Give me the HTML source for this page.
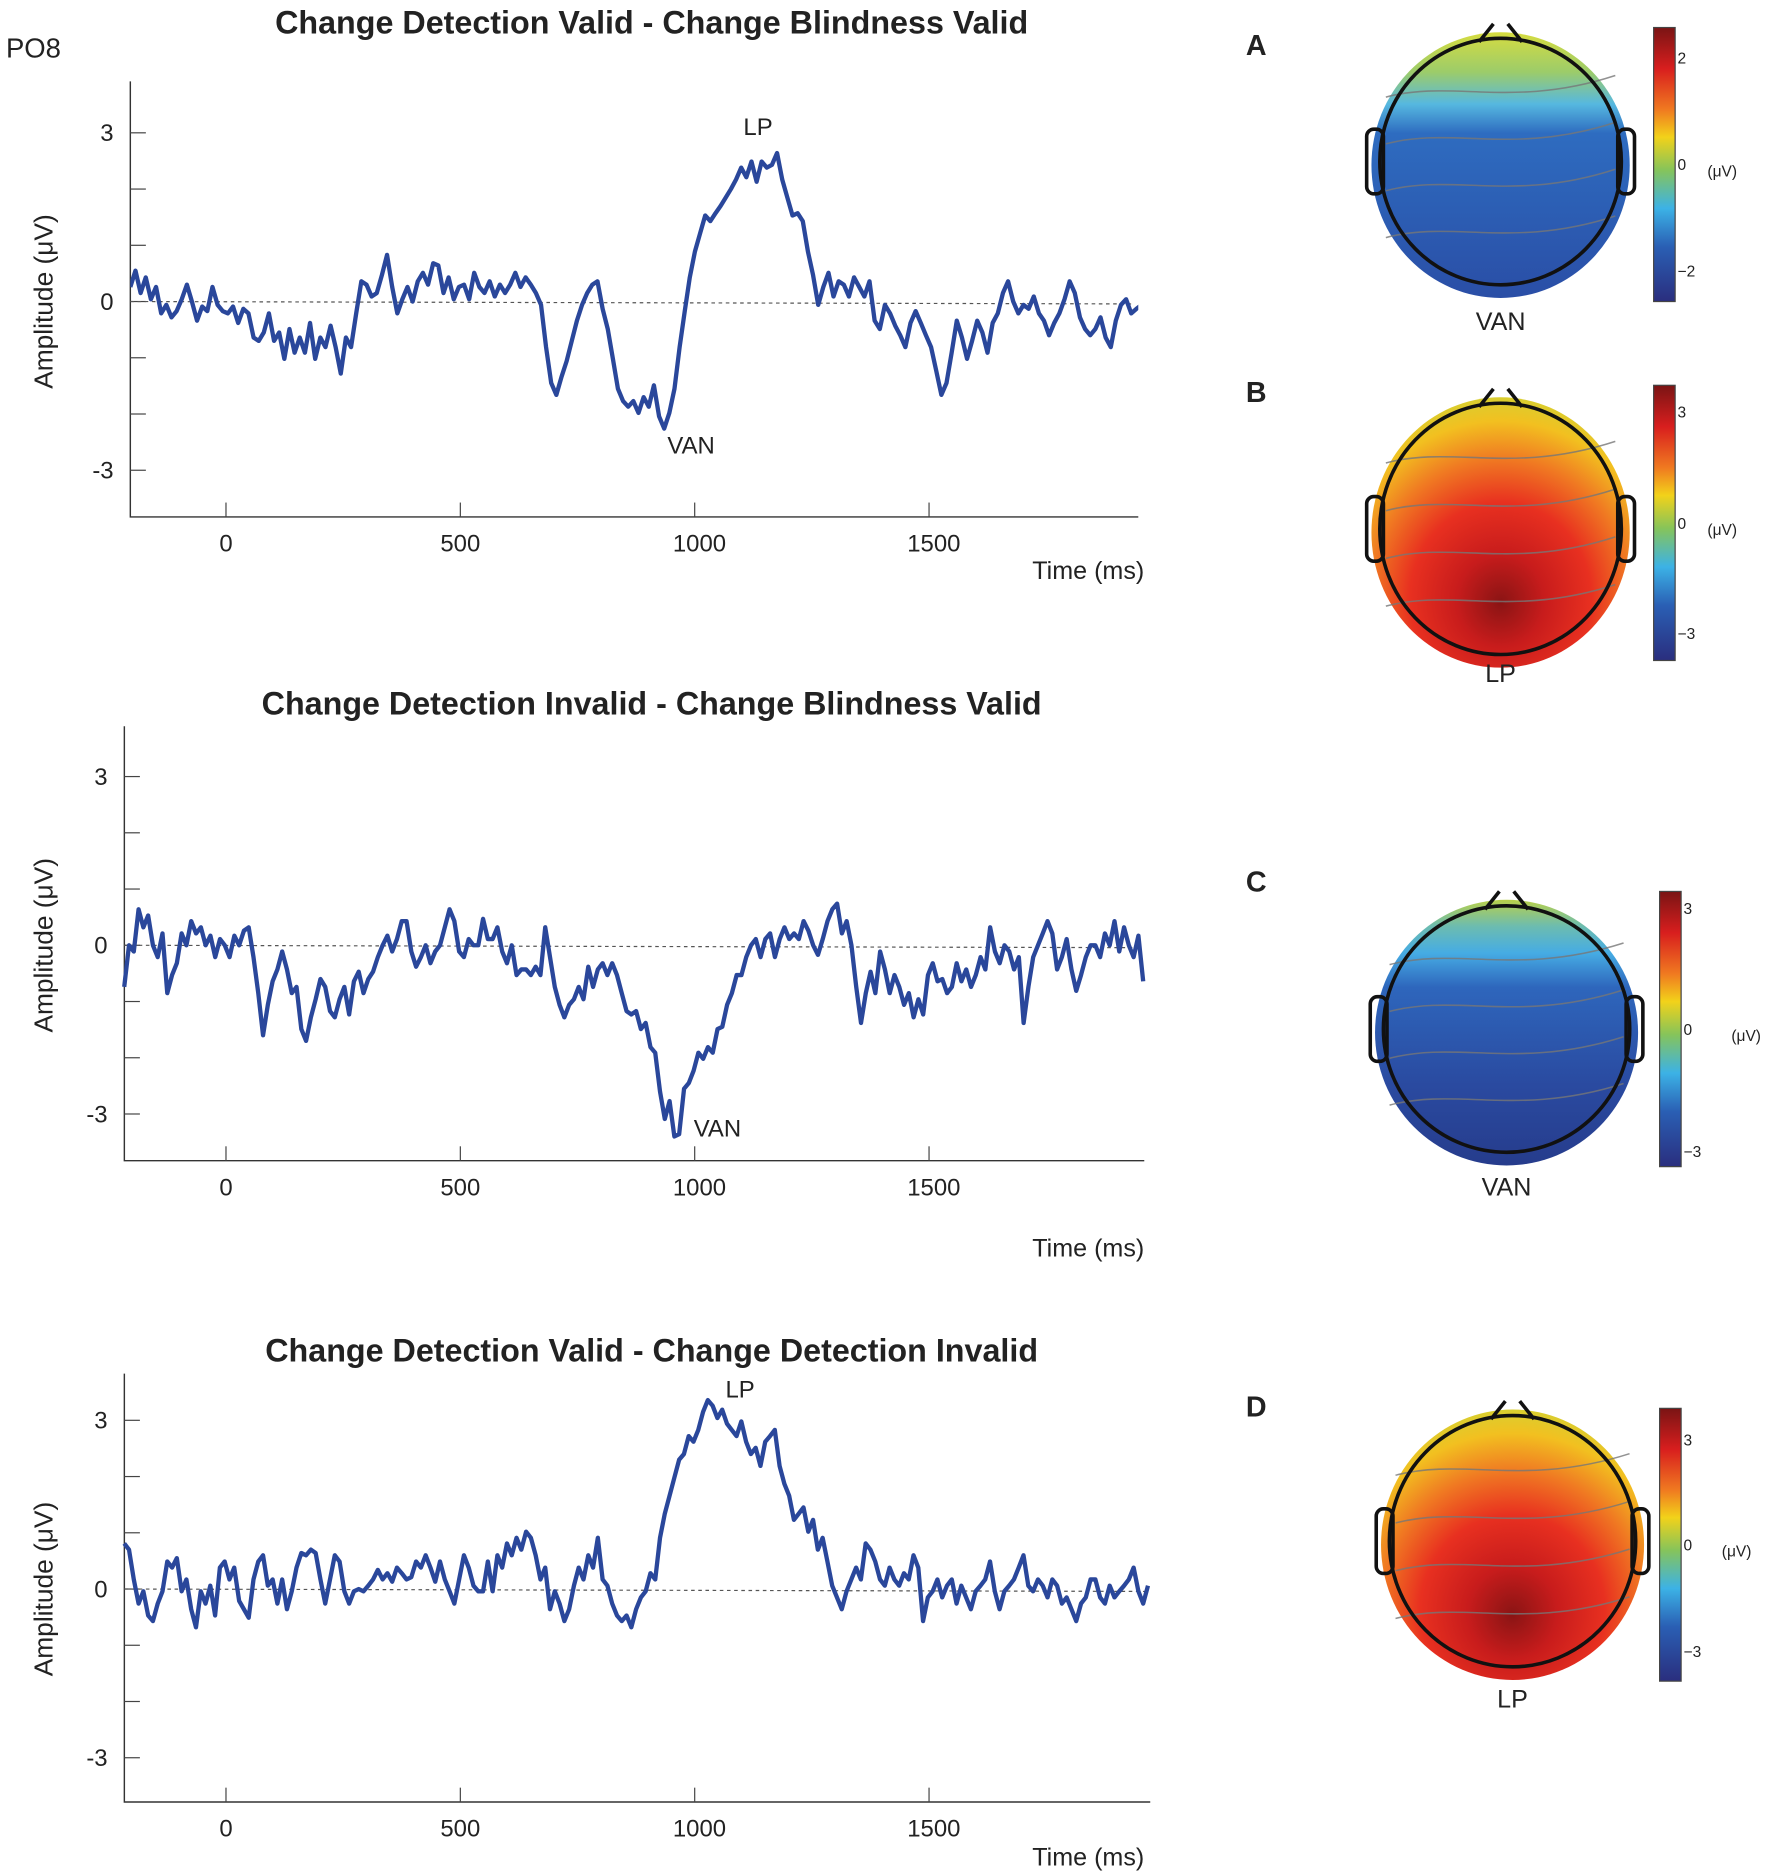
<!DOCTYPE html>
<html><head><meta charset="utf-8"><style>
html,body{margin:0;padding:0;background:#fff;}
svg{display:block;}
text{font-family:"Liberation Sans",sans-serif;fill:#222;}
</style></head><body>
<svg id="fig" width="1772" height="1875" viewBox="0 0 1482 1567" preserveAspectRatio="none" xmlns="http://www.w3.org/2000/svg">
<defs>
<linearGradient id="jet" x1="0" y1="0" x2="0" y2="1">
<stop offset="0" stop-color="#7a1414"/><stop offset="0.15" stop-color="#d81e1e"/><stop offset="0.3" stop-color="#f07a20"/><stop offset="0.4" stop-color="#f2d21a"/><stop offset="0.52" stop-color="#86c45a"/><stop offset="0.66" stop-color="#3cb2e6"/><stop offset="0.8" stop-color="#2a5fb4"/><stop offset="1" stop-color="#2a2e7e"/>
</linearGradient>
<linearGradient id="vanA" x1="0" y1="0" x2="0" y2="1">
<stop offset="0" stop-color="#d6dc40"/><stop offset="0.15" stop-color="#9ccc6a"/><stop offset="0.27" stop-color="#56b8e0"/><stop offset="0.38" stop-color="#2e6cc0"/><stop offset="1" stop-color="#2a4ea6"/>
</linearGradient>
<linearGradient id="vanC" x1="0" y1="0" x2="0" y2="1">
<stop offset="0" stop-color="#b8d04a"/><stop offset="0.1" stop-color="#6cbcb0"/><stop offset="0.2" stop-color="#46ace4"/><stop offset="0.33" stop-color="#2e66bc"/><stop offset="0.7" stop-color="#2a4aa0"/><stop offset="1" stop-color="#263c8c"/>
</linearGradient>
<radialGradient id="lp" cx="0.5" cy="0.72" r="0.78" fx="0.5" fy="0.76">
<stop offset="0" stop-color="#8a1414"/><stop offset="0.22" stop-color="#c81c1c"/><stop offset="0.45" stop-color="#e83020"/><stop offset="0.65" stop-color="#f07a22"/><stop offset="0.82" stop-color="#f2c020"/><stop offset="1" stop-color="#c8d83a"/>
</radialGradient>
<clipPath id="clip1"><rect x="109" y="60" width="843" height="380"/></clipPath>
</defs>
<g id="charts"></g>
<g id="maps"></g>
</svg>
<script>
// ---- data ----
const chart1Values = [.26,.55,.15,.43,.04,.26,-.21,-.06,-.28,-.17,.04,.30,0,-.34,-.09,-.17,.26,-.06,-.17,-.21,-.09,-.38,-.13,-.21,-.64,-.70,-.55,-.21,-.70,-.55,-1.02,-.49,-.91,-.64,-.91,-.38,-1.02,-.64,-.81,-.43,-.81,-1.28,-.64,-.81,-.21,.36,.30,.09,.15,.47,.83,.26,-.21,.04,.26,0,.36,.51,.30,.68,.64,.15,.43,.04,.26,.30,.04,.51,.26,.15,.36,.09,.30,.15,.30,.51,.26,.43,.30,.15,-.06,-.81,-1.45,-1.66,-1.34,-1.06,-.70,-.34,-.06,.15,.30,.36,-.13,-.49,-1.02,-1.55,-1.77,-1.87,-1.77,-1.98,-1.70,-1.87,-1.49,-2.04,-2.26,-1.98,-1.55,-.81,-.17,.43,.89,1.21,1.53,1.43,1.57,1.70,1.85,2.0,2.17,2.38,2.21,2.49,2.13,2.49,2.38,2.43,2.64,2.17,1.85,1.53,1.57,1.43,.89,.47,-.06,.26,.51,.09,.36,.30,.09,.43,.26,.09,.36,-.34,-.49,-.06,-.21,-.43,-.60,-.81,-.38,-.17,-.38,-.60,-.81,-1.23,-1.66,-1.45,-.91,-.34,-.64,-1.02,-.70,-.34,-.55,-.91,-.38,-.21,.15,.36,0,-.21,-.06,-.13,.09,-.21,-.34,-.60,-.38,-.21,.04,.36,.15,-.28,-.49,-.60,-.49,-.28,-.64,-.81,-.34,-.06,.04,-.21,-.13,-.06,.21,.43,.15,.26,.04,-.21,-.43];
const chart2Values = [-.74,0,-.11,.64,.32,.53,0,-.21,.21,-.85,-.53,-.32,.21,0,.43,.21,.32,0,.17,-.21,.11,0,-.21,.17,0,.26,.32,-.21,-.85,-1.6,-1.06,-.64,-.43,-.11,-.43,-.85,-.74,-1.49,-1.7,-1.28,-.96,-.6,-.74,-1.17,-1.28,-.96,-.74,-1.23,-.64,-.47,-.85,-.6,-.47,-.21,0,.17,-.11,.11,.43,.43,-.11,-.38,-.21,0,-.32,-.11,0,.32,.64,.43,-.11,-.21,.11,0,0,.47,.11,.11,.32,-.11,-.32,0,-.53,-.43,-.43,-.53,-.38,-.53,.32,-.21,-.74,-1.06,-1.28,-1.06,-.96,-.74,-.96,-.38,-.74,-.43,-.32,-.53,-.32,-.53,-.85,-1.17,-1.23,-1.17,-1.49,-1.38,-1.81,-1.91,-2.6,-3.09,-2.77,-3.4,-3.36,-2.55,-2.45,-2.23,-1.91,-2.02,-1.81,-1.91,-1.49,-1.45,-1.06,-.85,-.53,-.53,-.21,0,.11,-.21,.11,.21,-.21,.11,.32,.11,.21,.11,.43,.26,0,-.17,.11,.43,.64,.74,.21,.43,0,-.74,-1.38,-.85,-.47,-.85,-.11,-.43,-.85,-.53,-.74,-1.06,-.85,-1.28,-.96,-1.23,-.53,-.32,-.64,-.6,-.85,-.74,-.32,-.64,-.43,-.74,-.53,-.21,-.43,.32,-.11,-.32,0,-.11,-.43,-.21,-1.38,-.74,-.21,0,.21,.43,.21,-.43,-.21,.11,-.43,-.81,-.53,-.21,0,0,-.21,.21,0,.43,-.11,.32,0,-.21,.17,-.64];
const chart3Values = [.81,.70,.17,-.26,-.04,-.47,-.57,-.26,-.04,.49,.38,.55,-.04,.17,-.36,-.68,-.04,-.26,.06,-.47,.38,.49,.17,.38,-.21,-.36,-.51,.17,.49,.6,.06,.17,-.26,.17,-.36,-.04,.38,.64,.6,.7,.64,.17,-.26,.17,.6,.49,-.04,-.26,-.04,0,-.04,.06,.17,.34,.17,.28,.13,.38,.28,.17,.21,.49,.38,.6,.38,.13,.49,.17,-.04,-.26,.17,.6,.38,.06,-.04,-.04,.49,-.04,.6,.38,.81,.6,.91,.7,1.02,.91,.6,.17,.38,-.36,-.04,-.26,-.57,-.36,.06,.38,.17,.6,.38,.91,.17,.06,-.26,-.47,-.57,-.47,-.68,-.36,-.15,-.04,.28,.17,.91,1.34,1.66,1.98,2.3,2.4,2.72,2.62,2.83,3.15,3.36,3.26,3.04,3.19,2.94,2.83,2.72,2.98,2.62,2.4,2.51,2.19,2.62,2.72,2.83,2.19,1.87,1.66,1.23,1.34,1.45,1.02,1.23,.7,.91,.49,.06,-.15,-.36,-.04,.17,.38,.17,.81,.7,.49,.17,.06,.38,.17,.06,.28,.17,.6,.38,-.57,-.15,-.04,.17,-.15,.06,.17,-.26,.06,-.15,-.36,-.04,.06,.17,.49,-.04,-.36,-.04,.06,.17,.38,.6,.06,-.04,.17,.06,-.15,.17,.06,-.26,-.15,-.36,-.57,-.26,-.15,.17,.17,-.15,-.26,.06,-.15,-.04,.06,.17,.38,-.04,-.26,.06];
const chart1Range = [-204, 2030];
const chart2Range = [-217, 1957];
const chart3Range = [-217, 1967];
const xTickValues = [0, 500, 1000, 1500];
const xTickLabels = ["0", "500", "1000", "1500"];
const yTickValues = [-3, -2, -1, 0, 1, 2, 3];
const yLabelValues = [-3, 0, 3];

const NS = "http://www.w3.org/2000/svg";
function mk(tag, attrs, parent, txt){
  const e = document.createElementNS(NS, tag);
  for (const k in attrs) e.setAttribute(k, attrs[k]);
  if (txt !== undefined) e.textContent = txt;
  parent.appendChild(e);
  return e;
}
const chartsG = document.getElementById('charts');

function drawChart(cfg){
  const g = mk('g', {}, chartsG);
  
  
  const xS = t => 189 + t * 0.392;
  const yS = v => cfg.y0 - v * 47;
  const t = mk('text', {x: 545, y: cfg.titleY, 'text-anchor': 'middle', 'font-size': 27, 'font-weight': 'bold'}, g, cfg.title);
  
  
  const ax = mk('path', {d: `M${cfg.left},${cfg.top} V${cfg.bottom} H${cfg.right}`, stroke: '#333', 'stroke-width': 1.2, fill: 'none'}, g);
  
  
  yTickValues.forEach(v => {
    const tk = mk('line', {x1: cfg.left, x2: cfg.left + 13, y1: yS(v), y2: yS(v), stroke: '#444', 'stroke-width': 1}, g);
    
    
  });
  yLabelValues.forEach(v => {
    const l = mk('text', {x: cfg.left - 14, y: yS(v) + 7, 'text-anchor': 'end', 'font-size': 20}, g, String(v));
    
    
  });
  xTickValues.forEach((v, i) => {
    const tk = mk('line', {x1: xS(v), x2: xS(v), y1: cfg.bottom, y2: cfg.bottom - 12, stroke: '#444', 'stroke-width': 1}, g);
    
    
    const l = mk('text', {x: xS(v) + (i > 1 ? 4 : 0), y: cfg.bottom + 29, 'text-anchor': 'middle', 'font-size': 20}, g, xTickLabels[i]);
    
    
  });
  const xt = mk('text', {x: 957, y: cfg.timeY, 'text-anchor': 'end', 'font-size': 21}, g, 'Time (ms)');
  
  
  const yt = mk('text', {x: 0, y: 0, transform: `translate(44,${cfg.y0}) rotate(-90)`, 'text-anchor': 'middle', 'font-size': 22}, g, 'Amplitude (μV)');
  
  
  const zl = mk('line', {x1: cfg.left, x2: cfg.right - 4, y1: yS(0), y2: yS(0) + 2, stroke: '#555', 'stroke-width': 1, 'stroke-dasharray': '3,3'}, g);
  
  
  const vals = cfg.values, n = vals.length;
  const [t0, t1] = cfg.range;
  let d = '';
  vals.forEach((v, i) => {
    const tm = t0 + (t1 - t0) * i / (n - 1);
    d += (i ? 'L' : 'M') + xS(tm).toFixed(1) + ',' + yS(v).toFixed(1);
  });
  const attrs = {d, stroke: '#2a479b', 'stroke-width': 3.6, fill: 'none', 'stroke-linejoin': 'round'};
  if (cfg.clip) attrs['clip-path'] = cfg.clip;
  const ln = mk('path', attrs, g);
  
  
  cfg.ann.forEach(a => {
    const at = mk('text', {x: a[1], y: a[2], 'text-anchor': 'middle', 'font-size': 20}, g, a[0]);
    
    
  });
}

drawChart({name: 'chart-cdv-cbv', title: 'Change Detection Valid - Change Blindness Valid', titleY: 28, y0: 252, top: 68, bottom: 432, left: 109, right: 952, timeY: 484, values: chart1Values, range: chart1Range, clip: 'url(#clip1)', ann: [['LP', 634, 113], ['VAN', 578, 379]]});
drawChart({name: 'chart-cdi-cbv', title: 'Change Detection Invalid - Change Blindness Valid', titleY: 597, y0: 790, top: 607, bottom: 970, left: 104, right: 957, timeY: 1050, values: chart2Values, range: chart2Range, ann: [['VAN', 600, 950]]});
drawChart({name: 'chart-cdv-cdi', title: 'Change Detection Valid - Change Detection Invalid', titleY: 1138, y0: 1328, top: 1148, bottom: 1506, left: 104, right: 962, timeY: 1559, values: chart3Values, range: chart3Range, ann: [['LP', 619, 1168]]});

const po = mk('text', {x: 5, y: 48, 'font-size': 23}, chartsG, 'PO8');



// ---- topomaps ----
const mapsG = document.getElementById('maps');
const maps = [
  {letter: 'A', cx: 1255, cy: 135, rx: 101, ry: 103, fill: 'url(#vanA)', cbTop: 23, cbBot: 252, cbX: 1383, ticks: [['2', 48], ['0', 137], ['−2', 226]], unitX: 1428, label: 'VAN', labelY: 276, letterY: 46},
  {letter: 'B', cx: 1255, cy: 442, rx: 101, ry: 105, fill: 'url(#lp)', cbTop: 322, cbBot: 552, cbX: 1383, ticks: [['3', 344], ['0', 437], ['−3', 529]], unitX: 1428, label: 'LP', labelY: 570, letterY: 336},
  {letter: 'C', cx: 1260, cy: 860, rx: 103, ry: 103, fill: 'url(#vanC)', cbTop: 745, cbBot: 975, cbX: 1388, ticks: [['3', 759], ['0', 860], ['−3', 962]], unitX: 1448, label: 'VAN', labelY: 999, letterY: 745},
  {letter: 'D', cx: 1265, cy: 1288, rx: 103, ry: 105, fill: 'url(#lp)', cbTop: 1177, cbBot: 1405, cbX: 1388, ticks: [['3', 1203], ['0', 1291], ['−3', 1380]], unitX: 1440, label: 'LP', labelY: 1427, letterY: 1184}
];
maps.forEach(m => {
  const g = mk('g', {}, mapsG);
  
  
  const L = mk('text', {x: 1042, y: m.letterY, 'font-size': 24, 'font-weight': 'bold', fill: '#000'}, g, m.letter);
  
  
  const sk = mk('ellipse', {cx: m.cx, cy: m.cy + 3, rx: m.rx + 7, ry: m.ry + 8, fill: m.fill}, g);
  
  
  for (let k = 1; k <= 4; k++) {
    const yy = m.cy - m.ry + k * m.ry * 0.38;
    const c = mk('path', {d: `M${m.cx - m.rx * 0.95},${yy + 10} C${m.cx - 40},${yy - 5} ${m.cx + 10},${yy + 20} ${m.cx + m.rx * 0.95},${yy - 8}`, stroke: '#777', 'stroke-width': 1.3, fill: 'none', opacity: 0.8}, g);
    
    
  }
  const hd = mk('ellipse', {cx: m.cx, cy: m.cy, rx: m.rx, ry: m.ry, fill: 'none', stroke: '#111', 'stroke-width': 3}, g);
  
  
  const top = m.cy - m.ry;
  const ns = mk('path', {d: `M${m.cx - 18},${top + 3} L${m.cx - 6},${top - 12} M${m.cx + 6},${top - 12} L${m.cx + 18},${top + 3}`, stroke: '#111', 'stroke-width': 3, fill: 'none'}, g);
  
  
  [-1, 1].forEach(s => {
    const ex = m.cx + s * (m.rx + 4);
    const er = mk('rect', {x: ex - 7, y: m.cy - 27, width: 14, height: 54, rx: 6, fill: 'none', stroke: '#111', 'stroke-width': 3}, g);
    
    
  });
  const cb = mk('rect', {x: m.cbX, y: m.cbTop, width: 18, height: m.cbBot - m.cbTop, fill: 'url(#jet)', stroke: '#444', 'stroke-width': 1}, g);
  
  
  m.ticks.forEach(tk => {
    const tt = mk('text', {x: m.cbX + 20, y: tk[1] + 5, 'font-size': 13}, g, tk[0]);
    
    
  });
  const u = mk('text', {x: m.unitX, y: (m.cbTop + m.cbBot) / 2 + 10, 'font-size': 13}, g, '(μV)');
  
  
  const lb = mk('text', {x: m.cx, y: m.labelY, 'text-anchor': 'middle', 'font-size': 21}, g, m.label);
  
  
});
</script>
</body></html>
